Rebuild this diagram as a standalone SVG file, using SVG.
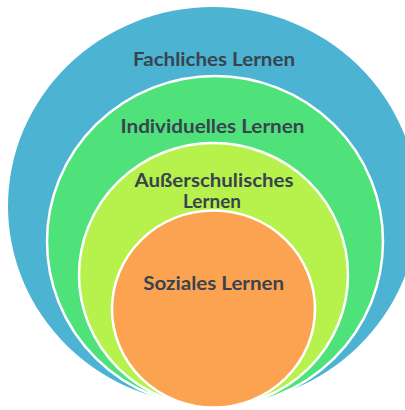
<svg xmlns="http://www.w3.org/2000/svg" width="405" height="410" viewBox="0 0 405 410">
<style>
.ring{stroke:#ffffff;stroke-width:2.5}
.lbl{font-family:Lato,"Open Sans","Liberation Sans",sans-serif;font-weight:bold;font-size:18.5px;fill:#39434f;text-anchor:middle}
</style>
<rect width="405" height="410" fill="#ffffff"/>
<g id="fachlich">
<ellipse cx="213" cy="206" rx="205" ry="199" fill="#4db3d2"/>
<text class="lbl" x="214" y="66" textLength="162" lengthAdjust="spacingAndGlyphs">Fachliches Lernen</text>
</g>
<g id="individuell">
<ellipse class="ring" cx="215" cy="241.5" rx="168" ry="165.5" fill="#4fe27a"/>
<text class="lbl" x="212.5" y="133.3" textLength="184" lengthAdjust="spacingAndGlyphs">Individuelles Lernen</text>
</g>
<g id="ausserschulisch">
<ellipse class="ring" cx="213.5" cy="275" rx="134.5" ry="132" fill="#b6f24b"/>
<text class="lbl" x="214" y="186.7" textLength="159" lengthAdjust="spacingAndGlyphs">Außerschulisches</text>
<text class="lbl" x="212" y="208.3" textLength="58" lengthAdjust="spacingAndGlyphs">Lernen</text>
</g>
<g id="sozial">
<ellipse class="ring" cx="213.5" cy="309" rx="101.5" ry="98.5" fill="#fba350"/>
<text class="lbl" x="213.7" y="290" textLength="141" lengthAdjust="spacingAndGlyphs">Soziales Lernen</text>
</g>
<g id="connectors"/>
</svg>
